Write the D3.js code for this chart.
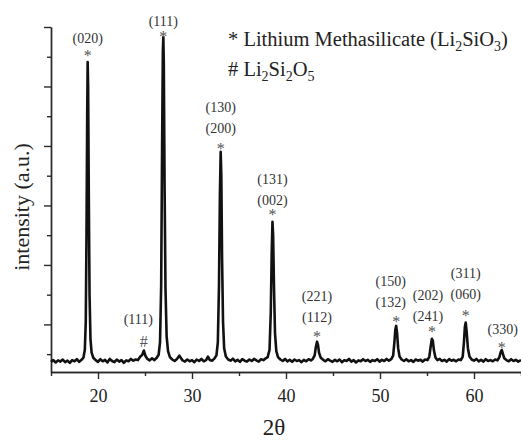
<!DOCTYPE html>
<html>
<head>
<meta charset="utf-8">
<script src="https://cdn.jsdelivr.net/npm/d3@7"></script>
<style>
  body { margin: 0; background: #fff; }
  svg { display: block; }
  svg text { font-family: "Liberation Serif", "Times New Roman", serif; }
</style>
</head>
<body>
<svg id="chart" width="521" height="440"></svg>
<script>
// XRD pattern (2theta in degrees, intensity in a.u.)
const twoTheta = [
  15.0, 15.25, 15.5, 15.75, 16.0, 16.25, 16.5, 16.75, 17.0, 17.25, 17.5, 17.75, 18.0, 18.25,
  18.45, 18.6, 18.7, 18.78, 18.85, 18.9, 18.95, 19.02, 19.1, 19.2, 19.32, 19.5, 19.75,
  20.0, 20.25, 20.5, 20.75, 21.0, 21.25, 21.5, 21.75, 22.0, 22.25, 22.5, 22.75, 23.0, 23.25,
  23.5, 23.75, 24.0, 24.25, 24.5, 24.7, 24.88, 25.05, 25.25, 25.5, 25.75, 26.0, 26.25,
  26.45, 26.6, 26.72, 26.82, 26.9, 26.95, 27.0, 27.08, 27.18, 27.3, 27.45, 27.65, 27.9,
  28.15, 28.4, 28.65, 28.8, 29.0, 29.25, 29.5, 29.75, 30.0, 30.25, 30.5, 30.75, 31.0, 31.25,
  31.5, 31.7, 31.9, 32.15, 32.4, 32.6, 32.75, 32.87, 32.97, 33.05, 33.12, 33.2, 33.3, 33.42,
  33.6, 33.85, 34.1, 34.35, 34.6, 34.85, 35.1, 35.35, 35.6, 35.85, 36.1, 36.35, 36.6, 36.85,
  37.1, 37.35, 37.6, 37.85, 38.05, 38.25, 38.38, 38.48, 38.56, 38.63, 38.72, 38.83, 38.97,
  39.15, 39.4, 39.65, 39.9, 40.15, 40.4, 40.65, 40.9, 41.15, 41.4, 41.65, 41.9, 42.15, 42.4,
  42.65, 42.85, 43.05, 43.18, 43.3, 43.4, 43.52, 43.7, 43.95, 44.2, 44.45, 44.7, 44.95,
  45.2, 45.45, 45.7, 45.95, 46.2, 46.45, 46.7, 46.95, 47.2, 47.45, 47.7, 47.95, 48.2, 48.45,
  48.7, 48.95, 49.2, 49.45, 49.7, 49.95, 50.2, 50.45, 50.7, 50.95, 51.2, 51.4, 51.53, 51.63,
  51.72, 51.82, 51.93, 52.08, 52.3, 52.55, 52.8, 53.05, 53.3, 53.55, 53.8, 54.05, 54.3,
  54.55, 54.8, 55.05, 55.25, 55.4, 55.52, 55.62, 55.74, 55.9, 56.1, 56.35, 56.6, 56.85,
  57.1, 57.35, 57.6, 57.85, 58.1, 58.35, 58.6, 58.8, 58.93, 59.03, 59.12, 59.22, 59.35,
  59.52, 59.75, 60.0, 60.25, 60.5, 60.75, 61.0, 61.25, 61.5, 61.75, 62.0, 62.25, 62.5,
  62.7, 62.85, 62.95, 63.07, 63.22, 63.45, 63.7, 63.95, 64.2, 64.45, 64.7, 65.0
];
const intensity = [
  74, 80, 72, 79, 75, 82, 73, 78, 71, 80, 76, 83, 74, 81,
  88, 115, 210, 520, 900, 1082, 1000, 640, 300, 150, 105, 88, 80,
  74, 83, 76, 81, 72, 84, 77, 73, 82, 75, 80, 71, 79, 76,
  84, 78, 82, 80, 92, 97, 112, 94, 84, 79, 86, 80, 88,
  98, 140, 330, 800, 1120, 1166, 1080, 680, 320, 160, 110, 90, 82,
  77, 84, 95, 88, 79, 75, 82, 76, 80, 73, 82, 77, 84, 76,
  80, 92, 80, 78, 86, 96, 140, 330, 640, 780, 700, 420, 210, 120,
  92, 82, 78, 85, 76, 81, 74, 83, 78, 75, 82, 77, 84, 79,
  75, 83, 80, 86, 90, 115, 240, 440, 545, 500, 330, 170, 110,
  90, 82, 77, 84, 76, 81, 74, 82, 77, 80, 73, 81, 76, 83,
  79, 84, 96, 125, 142, 132, 104, 88, 81, 76, 83, 78, 74,
  81, 76, 82, 73, 80, 77, 84, 75, 80, 72, 79, 76, 83, 77,
  81, 74, 80, 77, 83, 75, 81, 77, 84, 78, 83, 95, 140, 182,
  195, 170, 120, 92, 82, 77, 83, 76, 80, 74, 82, 78, 81,
  75, 82, 80, 92, 128, 152, 145, 112, 89, 80, 84, 77, 81,
  75, 83, 78, 81, 76, 82, 80, 92, 140, 192, 206, 175, 120,
  92, 82, 78, 84, 76, 81, 75, 83, 77, 80, 76, 82, 79,
  90, 108, 114, 102, 86, 80, 76, 83, 77, 81, 75, 80
];

// peak annotations: peak position, where the marker sits, where the lowest label line sits
const peakAt   = [18.9, 26.95, 33.05, 38.56, 43.3, 51.72, 55.52, 59.12, 62.95, 24.88];
const labelAt  = [18.9, 26.95, 33.05, 38.56, 43.3, 51.14, 55.1, 59.12, 63.05, 24.29];
const markY    = [1114, 1179, 801, 579, 171, 222, 188, 241, 134, 142];
const labelY   = [1159, 1218, 859, 616, 221, 271, 226, 299, 181, 215];
const marks    = ["*", "*", "*", "*", "*", "*", "*", "*", "*", "#"];
const hkl      = [["(020)"], ["(111)"], ["(130)", "(200)"], ["(131)", "(002)"], ["(221)", "(112)"],
                  ["(150)", "(132)"], ["(202)", "(241)"], ["(311)", "(060)"], ["(330)"], ["(111)"]];

const xMajor = [20, 30, 40, 50, 60];
const xMinor = [15, 25, 35, 45, 55, 65];
const yMajor = [200, 400, 600, 800, 1000, 1200];
const yMinor = [100, 300, 500, 700, 900, 1100];

const svg = d3.select("#chart");

let canvas = {"width": 521, "height": 440,
  "marginLeft": 51, "marginTop": 27, "marginRight": 0, "marginBottom": 68};

let xScale = d3.scaleLinear()
  .domain([15, 65])
  .range([canvas.marginLeft, canvas.width - canvas.marginRight]);

let yScale = d3.scaleLinear()
  .domain([40, 1200])
  .range([canvas.height - canvas.marginBottom, canvas.marginTop]);

const axisColor = "#2a2a2a";
const baseY = canvas.height - canvas.marginBottom;

// x axis: long labelled ticks + short minor ticks
let gxMinor = svg.append("g")
  .attr("transform", `translate(0, ${baseY})`)
  .call(d3.axisBottom(xScale).tickValues(xMinor).tickSize(4).tickSizeOuter(0).tickFormat(""));
let gx = svg.append("g")
  .attr("transform", `translate(0, ${baseY})`)
  .call(d3.axisBottom(xScale).tickValues(xMajor).tickSize(7).tickSizeOuter(0).tickPadding(10));

gx.selectAll("text")
  .attr("font-size", 18)
  .attr("fill", "#222");

// y axis, no labels
let gyMinor = svg.append("g")
  .attr("transform", `translate(${canvas.marginLeft}, 0)`)
  .call(d3.axisLeft(yScale).tickValues(yMinor).tickSize(4).tickSizeOuter(0).tickFormat(""));
let gy = svg.append("g")
  .attr("transform", `translate(${canvas.marginLeft}, 0)`)
  .call(d3.axisLeft(yScale).tickValues(yMajor).tickSize(7).tickSizeOuter(0).tickFormat(""));

for (let g of [gx, gxMinor, gy, gyMinor]) {
  g.selectAll("path, line").attr("stroke", axisColor).attr("stroke-width", 1.4);
}

// pattern
let pts = twoTheta.map((t, i) => [t, intensity[i]]);
let line = d3.line()
  .x(d => xScale(d[0]))
  .y(d => yScale(d[1]));

svg.append("path")
  .datum(pts)
  .attr("fill", "none")
  .attr("stroke", "#111")
  .attr("stroke-width", 2.6)
  .attr("stroke-linejoin", "round")
  .attr("d", line);

// peak marks and Miller indices
let notes = svg.append("g")
  .attr("text-anchor", "middle");

peakAt.forEach((p, i) => {
  notes.append("text")
    .attr("x", xScale(p))
    .attr("y", yScale(markY[i]))
    .attr("dy", marks[i] == "#" ? "0.33em" : "0.55em")
    .attr("font-size", 16)
    .attr("fill", "#555")
    .text(marks[i]);

  let lines = hkl[i];
  lines.forEach((txt, j) => {
    notes.append("text")
      .attr("x", xScale(labelAt[i]))
      .attr("y", yScale(labelY[i]) - (lines.length - 1 - j) * 21)
      .attr("dy", "0.3em")
      .attr("font-size", 14)
      .attr("fill", "#333")
      .text(txt);
  });
});

// legend
let legend = svg.append("g")
  .attr("font-size", 20.5)
  .attr("fill", "#222");

let l1 = legend.append("text").attr("x", 228).attr("y", 46);
l1.append("tspan").text("* Lithium Methasilicate (Li");
l1.append("tspan").attr("font-size", 14).attr("dy", 5).text("2");
l1.append("tspan").attr("dy", -5).text("SiO");
l1.append("tspan").attr("font-size", 14).attr("dy", 5).text("3");
l1.append("tspan").attr("dy", -5).text(")");

let l2 = legend.append("text").attr("x", 228).attr("y", 76);
l2.append("tspan").text("# Li");
l2.append("tspan").attr("font-size", 14).attr("dy", 5).text("2");
l2.append("tspan").attr("dy", -5).text("Si");
l2.append("tspan").attr("font-size", 14).attr("dy", 5).text("2");
l2.append("tspan").attr("dy", -5).text("O");
l2.append("tspan").attr("font-size", 14).attr("dy", 5).text("5");

// axis titles
svg.append("text")
  .attr("x", (canvas.marginLeft + canvas.width) / 2 - 12)
  .attr("y", 435)
  .attr("text-anchor", "middle")
  .attr("font-size", 23)
  .attr("fill", "#222")
  .text("2θ");

svg.append("text")
  .attr("transform", "translate(29, 207) rotate(-90)")
  .attr("text-anchor", "middle")
  .attr("font-size", 22)
  .attr("fill", "#222")
  .text("intensity (a.u.)");
</script>
</body>
</html>
